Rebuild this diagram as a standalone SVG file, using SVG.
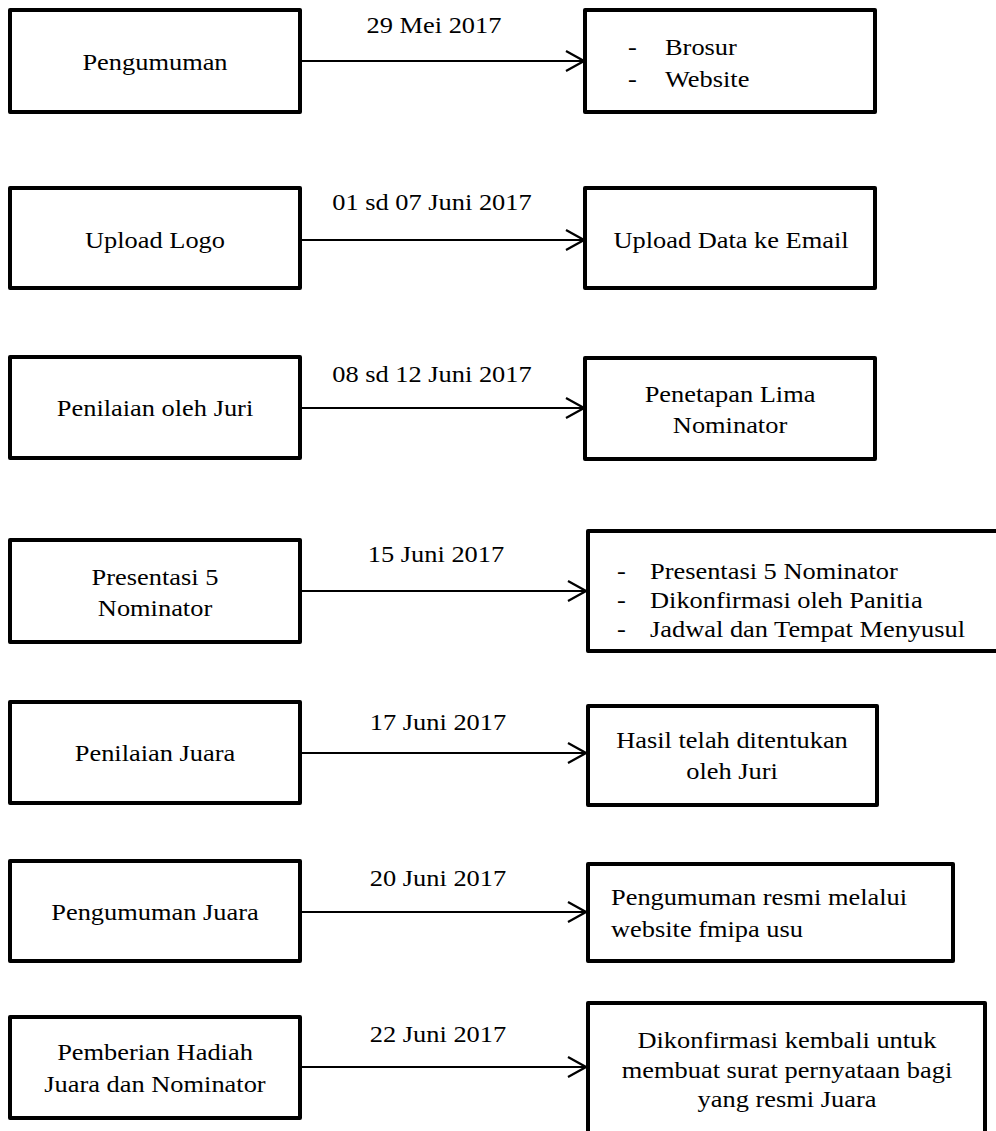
<svg xmlns="http://www.w3.org/2000/svg" width="996" height="1131" viewBox="0 0 996 1131">
<defs>
<style>
.box{fill:#fff;stroke:#000;stroke-width:4;stroke-linejoin:round}
.t{font-family:"Liberation Serif","Times New Roman",serif;font-size:24px;fill:#000}
.c{text-anchor:middle}
.conn{stroke:#000;stroke-width:2;fill:none}
</style>
<marker id="arr" markerUnits="userSpaceOnUse" markerWidth="22" markerHeight="26" refX="20" refY="12" orient="auto">
<path d="M2,2 L20,12 L2,22" fill="none" stroke="#000" stroke-width="2.2" stroke-linejoin="miter"/>
</marker>
</defs>
<rect width="996" height="1131" fill="#fff"/>

<g id="connectors">
<line class="conn" x1="300" y1="61" x2="584" y2="61" marker-end="url(#arr)"/>
<line class="conn" x1="300" y1="240" x2="584" y2="240" marker-end="url(#arr)"/>
<line class="conn" x1="300" y1="408" x2="584" y2="408" marker-end="url(#arr)"/>
<line class="conn" x1="300" y1="591" x2="586" y2="591" marker-end="url(#arr)"/>
<line class="conn" x1="300" y1="753" x2="586" y2="753" marker-end="url(#arr)"/>
<line class="conn" x1="300" y1="912" x2="586" y2="912" marker-end="url(#arr)"/>
<line class="conn" x1="300" y1="1067" x2="586" y2="1067" marker-end="url(#arr)"/>
<text class="t c" transform="matrix(1.1 0 0 1 434 0)"><tspan x="0" y="33">29 Mei 2017</tspan></text>
<text class="t c" transform="matrix(1.1 0 0 1 432 0)"><tspan x="0" y="210">01 sd 07 Juni 2017</tspan></text>
<text class="t c" transform="matrix(1.1 0 0 1 432 0)"><tspan x="0" y="382">08 sd 12 Juni 2017</tspan></text>
<text class="t c" transform="matrix(1.1 0 0 1 436 0)"><tspan x="0" y="562">15 Juni 2017</tspan></text>
<text class="t c" transform="matrix(1.1 0 0 1 438 0)"><tspan x="0" y="730">17 Juni 2017</tspan></text>
<text class="t c" transform="matrix(1.1 0 0 1 438 0)"><tspan x="0" y="886">20 Juni 2017</tspan></text>
<text class="t c" transform="matrix(1.1 0 0 1 438 0)"><tspan x="0" y="1042">22 Juni 2017</tspan></text>
</g>

<g id="n-pengumuman">
<rect class="box" x="10" y="10" width="290" height="102"/>
<text class="t c" transform="matrix(1.1 0 0 1 155 0)"><tspan x="0" y="70">Pengumuman</tspan></text>
</g>
<g id="n-brosur">
<rect class="box" x="585" y="10" width="290" height="102"/>
<text class="t" transform="matrix(1.1 0 0 1 628 0)"><tspan x="0" y="55">-</tspan><tspan x="0" y="87">-</tspan></text>
<text class="t" transform="matrix(1.1 0 0 1 665 0)"><tspan x="0" y="55">Brosur</tspan><tspan x="0" y="87">Website</tspan></text>
</g>

<g id="n-upload-logo">
<rect class="box" x="10" y="188" width="290" height="100"/>
<text class="t c" transform="matrix(1.1 0 0 1 155 0)"><tspan x="0" y="248">Upload Logo</tspan></text>
</g>
<g id="n-upload-data">
<rect class="box" x="585" y="188" width="290" height="100"/>
<text class="t c" transform="matrix(1.1 0 0 1 731 0)"><tspan x="0" y="248">Upload Data ke Email</tspan></text>
</g>

<g id="n-penilaian-juri">
<rect class="box" x="10" y="357" width="290" height="101"/>
<text class="t c" transform="matrix(1.1 0 0 1 155 0)"><tspan x="0" y="416">Penilaian oleh Juri</tspan></text>
</g>
<g id="n-penetapan">
<rect class="box" x="585" y="358" width="290" height="101"/>
<text class="t c" transform="matrix(1.1 0 0 1 730 0)"><tspan x="0" y="402">Penetapan Lima</tspan><tspan x="0" y="433">Nominator</tspan></text>
</g>

<g id="n-presentasi">
<rect class="box" x="10" y="540" width="290" height="102"/>
<text class="t c" transform="matrix(1.1 0 0 1 155 0)"><tspan x="0" y="585">Presentasi 5</tspan><tspan x="0" y="616">Nominator</tspan></text>
</g>
<g id="n-presentasi-list">
<rect class="box" x="588" y="531" width="420" height="120"/>
<text class="t" transform="matrix(1.1 0 0 1 617 0)"><tspan x="0" y="579">-</tspan><tspan x="0" y="608">-</tspan><tspan x="0" y="637">-</tspan></text>
<text class="t" transform="matrix(1.1 0 0 1 650 0)"><tspan x="0" y="579">Presentasi 5 Nominator</tspan><tspan x="0" y="608">Dikonfirmasi oleh Panitia</tspan><tspan x="0" y="637">Jadwal dan Tempat Menyusul</tspan></text>
</g>

<g id="n-penilaian-juara">
<rect class="box" x="10" y="702" width="290" height="101"/>
<text class="t c" transform="matrix(1.1 0 0 1 155 0)"><tspan x="0" y="761">Penilaian Juara</tspan></text>
</g>
<g id="n-hasil">
<rect class="box" x="588" y="706" width="289" height="99"/>
<text class="t c" transform="matrix(1.1 0 0 1 732 0)"><tspan x="0" y="748">Hasil telah ditentukan</tspan><tspan x="0" y="779">oleh Juri</tspan></text>
</g>

<g id="n-pengumuman-juara">
<rect class="box" x="10" y="861" width="290" height="100"/>
<text class="t c" transform="matrix(1.1 0 0 1 155 0)"><tspan x="0" y="920">Pengumuman Juara</tspan></text>
</g>
<g id="n-pengumuman-resmi">
<rect class="box" x="588" y="864" width="365" height="97"/>
<text class="t" transform="matrix(1.1 0 0 1 611 0)"><tspan x="0" y="905">Pengumuman resmi melalui</tspan><tspan x="0" y="937">website fmipa usu</tspan></text>
</g>

<g id="n-pemberian">
<rect class="box" x="10" y="1017" width="290" height="101"/>
<text class="t c" transform="matrix(1.1 0 0 1 155 0)"><tspan x="0" y="1060">Pemberian Hadiah</tspan><tspan x="0" y="1092">Juara dan Nominator</tspan></text>
</g>
<g id="n-dikonfirmasi">
<rect class="box" x="588" y="1003" width="397" height="140"/>
<text class="t c" transform="matrix(1.1 0 0 1 787 0)"><tspan x="0" y="1048">Dikonfirmasi kembali untuk</tspan><tspan x="0" y="1078">membuat surat pernyataan bagi</tspan><tspan x="0" y="1107">yang resmi Juara</tspan></text>
</g>
</svg>
